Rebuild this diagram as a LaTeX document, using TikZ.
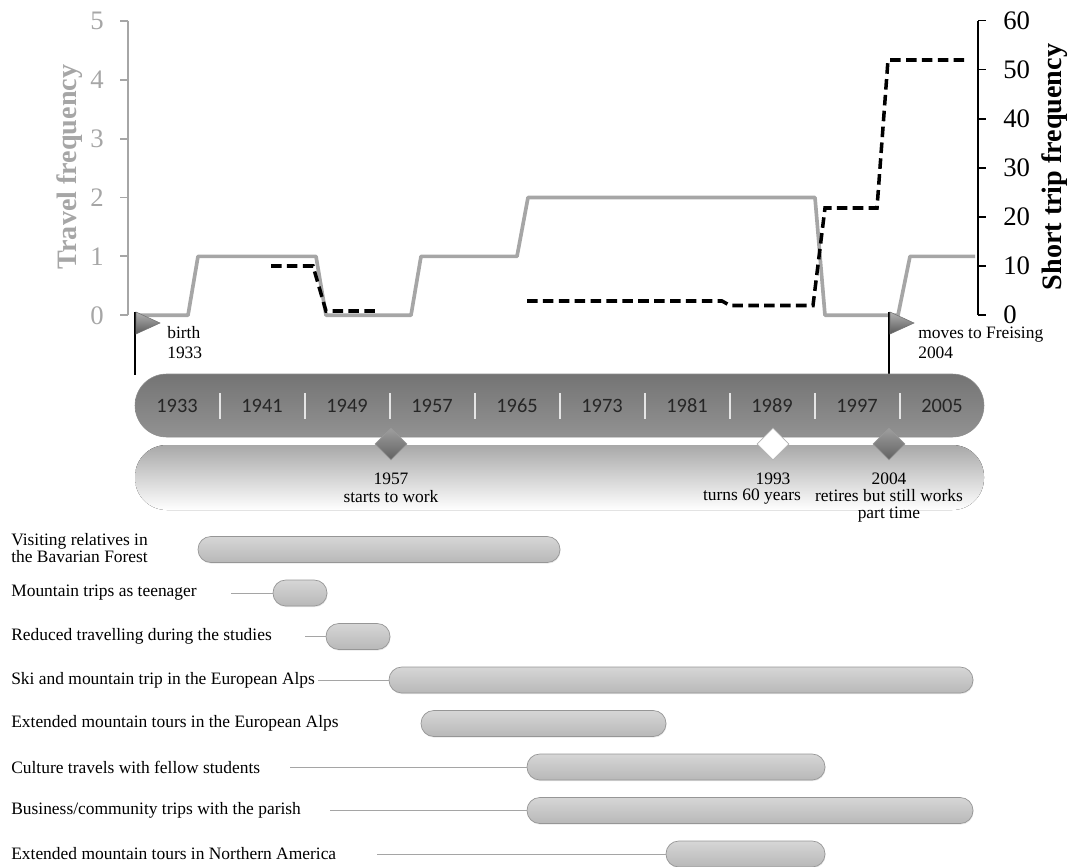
\documentclass[tikz,border=0pt]{standalone}
\usepackage{fontspec}
\setmainfont{Liberation Serif}
\newfontfamily\yearfont{Carlito}
\usepackage{tikz}
\usetikzlibrary{shapes.geometric,shadows,fit,positioning}
\definecolor{freqgray}{RGB}{166,166,166}
\definecolor{bandtop}{RGB}{116,116,116}
\definecolor{bandbot}{RGB}{146,146,146}
\definecolor{bartop}{RGB}{214,214,214}
\definecolor{barbot}{RGB}{184,184,184}
\definecolor{barline}{RGB}{150,150,150}
\definecolor{conngray}{RGB}{165,165,165}

\begin{document}
\begin{tikzpicture}[x=0.025cm, y=-0.025cm,
    freqline/.style={line width=2.6pt, freqgray, line join=round},
    tripline/.style={line width=2.5pt, black, dash pattern=on 7.5pt off 3.8pt},
    lefttick/.style={font=\fontsize{19}{19}\selectfont, text=freqgray, inner sep=0pt},
    righttick/.style={font=\fontsize{19}{19}\selectfont, anchor=west, inner sep=0pt},
    axtitle/.style={font=\fontsize{20}{20}\selectfont\bfseries, rotate=90, inner sep=0pt},
    yearlbl/.style={font=\yearfont\fontsize{14.5}{14.5}\selectfont, text=black!85},
    milestone/.style={diamond, draw=black!40, top color=black!38, bottom color=black!62,
        minimum size=0.8cm, inner sep=0pt},
    evtlbl/.style={font=\fontsize{12.4}{12.1}\selectfont, align=center, inner sep=0pt},
    flaglbl/.style={font=\fontsize{12.4}{14.2}\selectfont, align=left, anchor=west, inner sep=0pt},
    triplbl/.style={font=\fontsize{12.4}{12.1}\selectfont, align=left, anchor=west, inner sep=0pt},
    tripbar/.style={rectangle, rounded corners=0.32cm, draw=barline, line width=0.5pt,
        top color=bartop, bottom color=barbot, inner sep=0pt,
        drop shadow={opacity=0.18, shadow xshift=0.4pt, shadow yshift=-0.8pt}},
    conn/.style={conngray, line width=0.7pt}
]
    \useasboundingbox (0,0) rectangle (1074,867);

    % left axis: travel frequency
    \draw[freqgray, line width=1.4pt] (128,20.7) -- (128,315.3);
    \foreach \v in {0,...,5} {
        \draw[freqgray, line width=1.4pt] (120,315.3-\v*58.9) -- (128,315.3-\v*58.9);
        \node[lefttick] (lt\v) at (97,315.3-\v*58.9) {\v};
    }
    \node[axtitle, text=freqgray] (ytl) at (70,167) {Travel frequency};

    % right axis: short trips
    \draw[line width=1pt] (978,20.7) -- (978,315);
    \foreach \v in {0,10,...,60} {
        \draw[line width=1pt] (978,315-\v*4.905) -- (986,315-\v*4.905);
        \node[righttick] (rt\v) at (1003,315-\v*4.905) {\v};
    }
    \node[axtitle] (ytr) at (1055,167) {Short trip frequency};

    % data
    \draw[freqline] (135,315.3) -- (188,315.3) -- (198,256.4) -- (316,256.4) -- (326,315.3)
        -- (411,315.3) -- (421,256.4) -- (517,256.4) -- (528,197.5) -- (815,197.5)
        -- (825,315.3) -- (898,315.3) -- (910,256.4) -- (975,256.4);
    \draw[tripline] (271,266) -- (313,266) -- (326,311) -- (380,311);
    \draw[tripline] (527,301) -- (722,301) -- (730,305.5) -- (813,305.5) -- (825,208)
        -- (877,208) -- (888,60) -- (968,60);

    % flags
    \draw[line width=1.2pt] (135,312) -- (135,375);
    \draw[top color=black!30, bottom color=black!65, draw=black!55] (136,312) -- (160,323) -- (136,334) -- cycle;
    \node[flaglbl] (f1933) at (167,343) {birth\\1933};
    \draw[line width=1.2pt] (889,312) -- (889,375);
    \draw[top color=black!30, bottom color=black!65, draw=black!55] (890,312) -- (914,323) -- (890,334) -- cycle;
    \node[flaglbl] (f2004) at (918,343) {moves to Freising\\2004};

    % timeline band and its reflection
    \fill[top color=black!34, middle color=black!5, bottom color=white, rounded corners=0.79cm] (135,445) rectangle (984,510);
    \node[fit={(135,374) (984,437)}, inner sep=0pt, rounded corners=0.79cm,
        top color=bandtop, bottom color=bandbot, draw=black!45] (band) {};
    \foreach \yr [count=\i from 0] in {1933,1941,1949,1957,1965,1973,1981,1989,1997,2005}
        \node[yearlbl] (y\yr) at (177+\i*85,406) {\yr};
    \foreach \i in {1,...,9}
        \draw[white!90!black, line width=0.9pt] (135+\i*85,393) -- (135+\i*85,419);

    % milestones
    \node[milestone] (m1957) at (391,444) {};
    \node[milestone, top color=white, bottom color=white, draw=black!30] (m1993) at (773,444) {};
    \node[milestone] (m2004) at (889,444) {};
    \node[evtlbl] (t1957) at (391,479) {1957};
    \node[evtlbl] (e1957) at (391,497) {starts to work};
    \node[evtlbl] (t1993) at (773,479) {1993};
    \node[evtlbl] (e1993) at (752,497) {turns 60 years};
    \node[evtlbl] (t2004) at (889,479) {2004};
    \node[evtlbl] (e2004) at (889,506) {retires but still works\\part time};

    % travel phases
    \node[triplbl] (l1) at (11,548.5) {Visiting relatives in\\the Bavarian Forest};
    \node[triplbl] (l2) at (11,593) {Mountain trips as teenager};
    \node[triplbl] (l3) at (11,636.5) {Reduced travelling during the studies};
    \node[triplbl] (l4) at (11,680) {Ski and mountain trip in the European Alps};
    \node[triplbl] (l5) at (11,723.5) {Extended mountain tours in the European Alps};
    \node[triplbl] (l6) at (11,767) {Culture travels with fellow students};
    \node[triplbl] (l7) at (11,810.5) {Business/community trips with the parish};
    \node[triplbl] (l8) at (11,854) {Extended mountain tours in Northern America};

    \node[tripbar, fit={(198,536.5) (560,562.5)}] (b1) {};
    \node[tripbar, fit={(273,580) (327,606)}] (b2) {};
    \node[tripbar, fit={(326,623.5) (390,649.5)}] (b3) {};
    \node[tripbar, fit={(389,667) (973,693)}] (b4) {};
    \node[tripbar, fit={(421,710.5) (666,736.5)}] (b5) {};
    \node[tripbar, fit={(527,754) (825,780)}] (b6) {};
    \node[tripbar, fit={(527,797.5) (973,823.5)}] (b7) {};
    \node[tripbar, fit={(666,841) (825,867)}] (b8) {};

    \coordinate (c2) at (231,593);
    \coordinate (c3) at (305,636.5);
    \coordinate (c4) at (318,680);
    \coordinate (c6) at (290,767);
    \coordinate (c7) at (330,810.5);
    \coordinate (c8) at (377,854);
    \draw[conn] (c2) -- (b2.west);
    \draw[conn] (c3) -- (b3.west);
    \draw[conn] (c4) -- (b4.west);
    \draw[conn] (c6) -- (b6.west);
    \draw[conn] (c7) -- (b7.west);
    \draw[conn] (c8) -- (b8.west);
\end{tikzpicture}
\end{document}
